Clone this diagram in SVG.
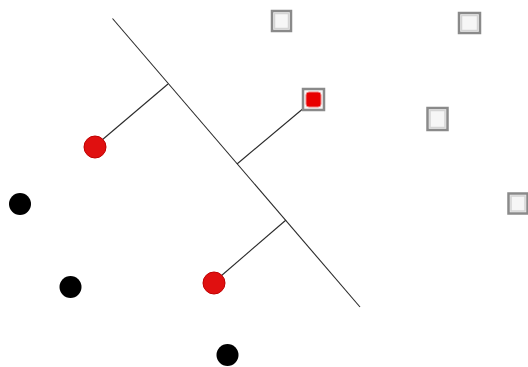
<svg xmlns="http://www.w3.org/2000/svg" width="528" height="367" viewBox="0 0 528 367">
<style>
.ln{stroke:#2a2a2a;stroke-width:1.1;fill:none}
.red{fill:#e01010;stroke:#c00000;stroke-width:1}
.blk{fill:#000}
.sq{fill:#f6f6f6;stroke:#8a8a8a;stroke-width:2.5}
.sqi{fill:none;stroke:#d4d4d4;stroke-width:1.5}
</style>
<rect width="528" height="367" fill="#fff"/>
<g id="connectors">
<line class="ln" x1="112.5" y1="18.5" x2="360" y2="307"/>
<line class="ln" x1="102" y1="140" x2="168" y2="84"/>
<line class="ln" x1="305" y1="107" x2="237" y2="164"/>
<line class="ln" x1="221" y1="276" x2="286" y2="220"/>
</g>
<g id="red-circle-1"><circle class="red" cx="95" cy="147" r="11"/></g>
<g id="red-circle-2"><circle class="red" cx="214" cy="283" r="11"/></g>
<g id="black-circle-1"><circle class="blk" cx="20" cy="204" r="11"/></g>
<g id="black-circle-2"><circle class="blk" cx="70.5" cy="287" r="11"/></g>
<g id="black-circle-3"><circle class="blk" cx="227.5" cy="355" r="11"/></g>
<g id="square-1"><rect class="sq" x="272" y="11" width="19" height="20"/><rect class="sqi" x="274.5" y="13.5" width="14" height="15"/></g>
<g id="square-red"><rect class="sq" x="303" y="89" width="21" height="21" fill="#f0d8d8"/><rect x="306" y="92" width="15" height="15" rx="3" fill="#e80000" stroke="#f08080" stroke-width="1"/></g>
<g id="square-2"><rect class="sq" x="459" y="13" width="21" height="20"/><rect class="sqi" x="461.5" y="15.5" width="16" height="15"/></g>
<g id="square-3"><rect class="sq" x="427.5" y="108" width="20" height="22"/><rect class="sqi" x="430" y="110.5" width="15" height="17"/></g>
<g id="square-4"><rect class="sq" x="508.5" y="193.5" width="19" height="20"/><rect class="sqi" x="511" y="196" width="14" height="15"/></g>
</svg>
